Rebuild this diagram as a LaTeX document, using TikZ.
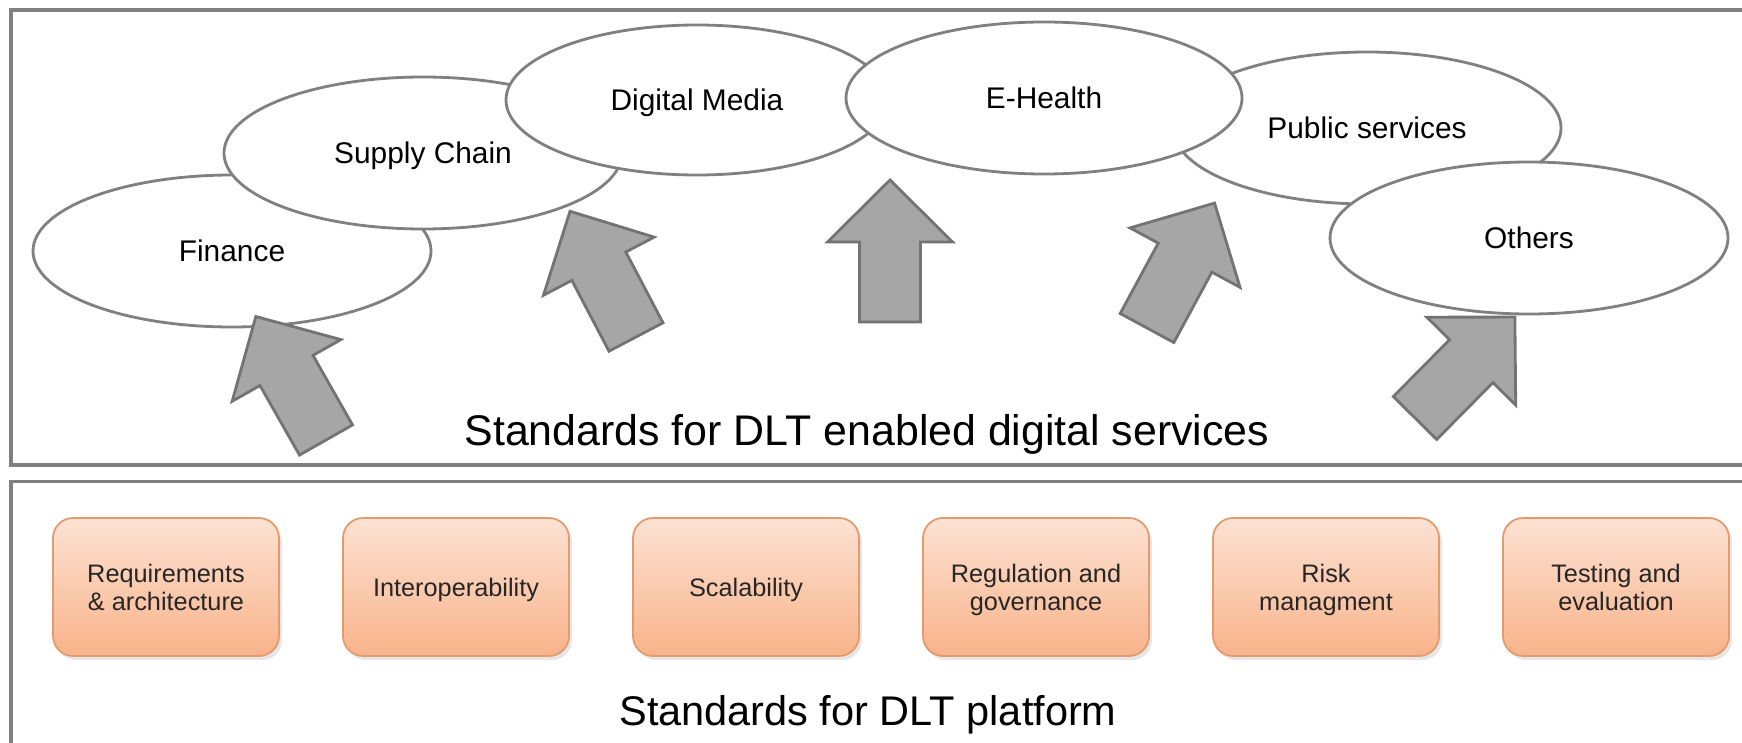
\documentclass[tikz,border=0pt]{standalone}
\usepackage{fontspec}
\setmainfont{Liberation Sans}
\usepackage{xcolor}
\usetikzlibrary{shapes.geometric, positioning, shadows}
\definecolor{linegray}{HTML}{808080}
\definecolor{arrowgray}{HTML}{A6A6A6}
\definecolor{peachtop}{HTML}{FDE2D3}
\definecolor{peachbot}{HTML}{F8B38A}
\definecolor{peachline}{HTML}{E39A6C}

\begin{document}
\begin{tikzpicture}[node distance=2.9cm,
                    frame/.style={draw=linegray,line width=0.9pt},
                    domain node/.style={ellipse,draw=linegray,line width=0.8pt,fill=white,
                      minimum width=3.98cm,minimum height=1.52cm,inner sep=0pt,text depth=0pt,
                      font=\fontsize{8.5}{10}\selectfont},
                    topic node/.style={rectangle,rounded corners=0.2cm,draw=peachline,line width=0.5pt,
                      top color=peachtop,bottom color=peachbot,minimum width=2.26cm,minimum height=1.38cm,
                      align=center,text depth=0pt,text=black!85,font=\fontsize{7.2}{8}\selectfont,
                      drop shadow={opacity=0.2,shadow xshift=0.03cm,shadow yshift=-0.04cm}},
                    title node/.style={anchor=base,font=\fontsize{12.2}{14}\selectfont},
                    pics/push/.style={code={
                      \draw[draw=linegray!90!black,fill=arrowgray,line width=0.8pt]
                        (0,-0.305) -- (0.80,-0.305) -- (0.80,-0.625) -- (1.42,0)
                        -- (0.80,0.625) -- (0.80,0.305) -- (0,0.305) -- cycle;}}]

  \useasboundingbox (0,0) rectangle (17.42,-7.42);
  \clip (0,0) rectangle (17.42,-7.42);

  % the two layers
  \draw[frame] (0.11,-0.10) rectangle (17.6,-4.65);
  \draw[frame] (0.11,-4.815) rectangle (17.6,-7.6);

  % digital services
  \node[domain node] (fin) at (2.32,-2.51) {Finance};
  \node[domain node] (sup) at (4.23,-1.53) {Supply Chain};
  \node[domain node,minimum width=3.82cm,minimum height=1.50cm] (dig) at (6.97,-1.00) {Digital Media};
  \node[domain node,minimum width=3.88cm] (pub) at (13.67,-1.28) {Public services};
  \node[domain node,minimum width=3.96cm] (ehe) at (10.44,-0.98) {E-Health};
  \node[domain node] (oth) at (15.29,-2.38) {Others};

  \pic[rotate=119.6] at (3.26,-4.40) {push};
  \pic[rotate=117.7] at (6.36,-3.37) {push};
  \pic[rotate=90]    at (8.90,-3.22) {push};
  \pic[rotate=61.6]  at (11.47,-3.28) {push};
  \pic[rotate=45.3]  at (14.15,-4.18) {push};

  \node[title node] (svc) at (8.67,-4.45) {Standards for DLT enabled digital services};

  % platform
  \node[topic node] (req) at (1.66,-5.87) {Requirements\\\& architecture};
  \node[topic node] (iop) [right of=req] {Interoperability};
  \node[topic node] (scl) [right of=iop] {Scalability};
  \node[topic node] (reg) [right of=scl] {Regulation and\\governance};
  \node[topic node] (rsk) [right of=reg] {Risk\\managment};
  \node[topic node] (tst) [right of=rsk] {Testing and\\evaluation};

  \node[title node,font=\fontsize{11.8}{14}\selectfont] (plat) at (8.68,-7.25) {Standards for DLT platform};

\end{tikzpicture}
\end{document}
